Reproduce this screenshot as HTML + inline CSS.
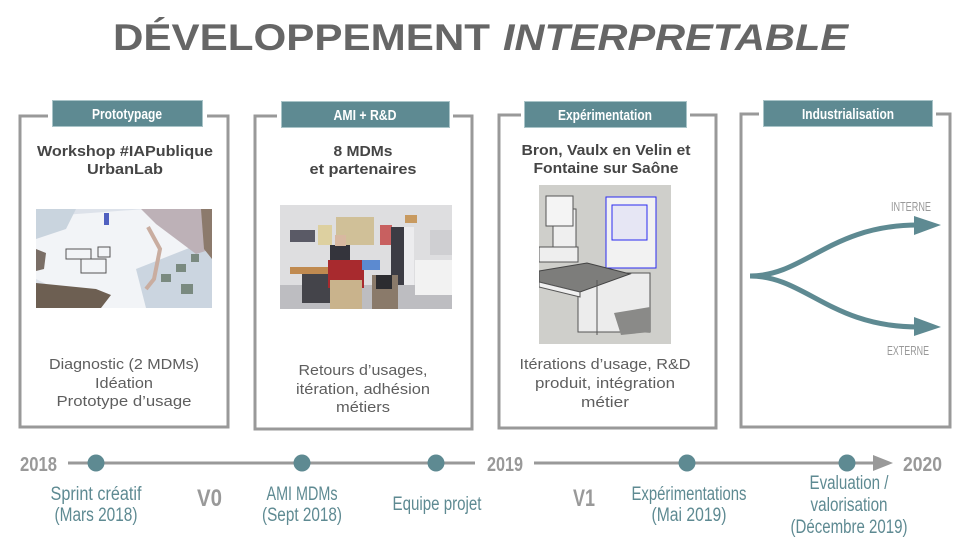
<!DOCTYPE html>
<html><head><meta charset="utf-8">
<style>
html,body{margin:0;padding:0;background:#fff;}
svg{display:block;}
.c{font-family:"Liberation Sans Narrow","Liberation Sans",sans-serif;}
.r{font-family:"Liberation Sans",sans-serif;}
</style></head>
<body>
<svg width="960" height="540" viewBox="0 0 960 540" xmlns="http://www.w3.org/2000/svg">
<rect width="960" height="540" fill="#fff"/>
<!-- Title -->
<text class="r" x="113" y="50" font-size="37" font-weight="bold" fill="#666" textLength="377" lengthAdjust="spacingAndGlyphs">DÉVELOPPEMENT</text>
<text class="r" x="503" y="50" font-size="37" font-weight="bold" font-style="italic" fill="#666" textLength="345" lengthAdjust="spacingAndGlyphs">INTERPRETABLE</text>

<!-- Box frames -->
<g fill="none" stroke="#999" stroke-width="3">
  <polyline points="48,116 20,116 20,427 228,427 228,116 207,116"/>
  <polyline points="277,116 255,116 255,429 472,429 472,116 453,116"/>
  <polyline points="521,115 499,115 499,428 716,428 716,115 690,115"/>
  <polyline points="759,114 741,114 741,427 950,427 950,114 936,114"/>
</g>
<!-- Label boxes -->
<g fill="#5e8a92" stroke="#a9c4c8" stroke-width="1">
  <rect x="52.5" y="100.5" width="150" height="26"/>
  <rect x="281.5" y="101.5" width="168" height="26"/>
  <rect x="524.5" y="101.5" width="162" height="26"/>
  <rect x="763.5" y="100.5" width="169" height="26"/>
</g>
<g class="c" fill="#fff" font-weight="bold" font-size="15" text-anchor="middle">
  <text x="127" y="119" textLength="70" lengthAdjust="spacingAndGlyphs">Prototypage</text>
  <text x="365" y="120" textLength="63" lengthAdjust="spacingAndGlyphs">AMI + R&amp;D</text>
  <text x="605" y="120" textLength="94" lengthAdjust="spacingAndGlyphs">Expérimentation</text>
  <text x="848" y="119" textLength="92" lengthAdjust="spacingAndGlyphs">Industrialisation</text>
</g>

<!-- Headings -->
<g class="r" fill="#454545" font-weight="bold" font-size="15" text-anchor="middle">
  <text x="125" y="156" textLength="176" lengthAdjust="spacingAndGlyphs">Workshop #IAPublique</text>
  <text x="125" y="174" textLength="76" lengthAdjust="spacingAndGlyphs">UrbanLab</text>
  <text x="363" y="156" textLength="59" lengthAdjust="spacingAndGlyphs">8 MDMs</text>
  <text x="363" y="174" textLength="107" lengthAdjust="spacingAndGlyphs">et partenaires</text>
  <text x="606" y="155" textLength="169" lengthAdjust="spacingAndGlyphs">Bron, Vaulx en Velin et</text>
  <text x="606" y="173" textLength="145" lengthAdjust="spacingAndGlyphs">Fontaine sur Saône</text>
</g>

<!-- Image 1 -->
<svg x="36" y="209" width="176" height="99" viewBox="0 0 176 99">
  <rect width="176" height="99" fill="#dde2ea"/>
  <polygon points="0,8 110,0 176,30 176,60 130,99 60,99 0,70" fill="#f2f4f7"/>
  <polygon points="0,0 40,0 30,20 0,30" fill="#c9d4de"/>
  <polygon points="100,60 176,30 176,99 110,99" fill="#cbd5e0"/>
  <polygon points="105,0 176,0 176,40 160,45 140,30 120,15" fill="#bdb1b7"/>
  <polygon points="165,0 176,0 176,50 168,40" fill="#8c7a6c"/>
  <polygon points="0,74 60,80 75,86 65,99 0,99" fill="#6d5f52"/>
  <polygon points="0,40 10,44 8,60 0,62" fill="#7a6e66"/>
  <polyline points="112,18 124,40 118,70 110,80" fill="none" stroke="#c9ada0" stroke-width="4"/>
  <g fill="none" stroke="#555" stroke-width="1">
    <rect x="30" y="40" width="25" height="10"/><rect x="45" y="50" width="25" height="14"/><rect x="62" y="38" width="12" height="10"/>
  </g>
  <g fill="#7a8a80"><rect x="125" y="65" width="10" height="8"/><rect x="140" y="55" width="10" height="8"/><rect x="145" y="75" width="12" height="10"/><rect x="155" y="45" width="8" height="8"/></g>
  <rect x="68" y="4" width="5" height="12" fill="#5060c0"/>
</svg>

<!-- Image 2 -->
<svg x="280" y="205" width="172" height="104" viewBox="0 0 172 104">
  <rect width="172" height="104" fill="#dedee0"/>
  <rect y="80" width="172" height="24" fill="#bdbdc1"/>
  <rect x="10" y="25" width="25" height="12" fill="#5a5a66"/>
  <rect x="38" y="20" width="14" height="20" fill="#ddd0a0"/>
  <rect x="56" y="12" width="38" height="28" fill="#d0c098"/>
  <rect x="100" y="20" width="12" height="20" fill="#c86060"/>
  <rect x="111" y="22" width="13" height="58" fill="#3c3c44"/>
  <rect x="124" y="22" width="10" height="58" fill="#ececee"/>
  <rect x="125" y="10" width="12" height="8" fill="#c89a60"/>
  <rect x="135" y="55" width="37" height="35" fill="#f2f2f2"/>
  <rect x="150" y="25" width="22" height="25" fill="#cfcfd2"/>
  <rect x="22" y="62" width="36" height="36" fill="#44444a"/>
  <rect x="10" y="62" width="70" height="7" fill="#c08a50"/>
  <rect x="50" y="40" width="20" height="22" fill="#34343c"/>
  <rect x="55" y="30" width="11" height="11" fill="#d8b8a0"/>
  <rect x="48" y="55" width="36" height="28" fill="#a82a2e"/>
  <rect x="82" y="55" width="18" height="10" fill="#5c8ad0"/>
  <rect x="50" y="75" width="32" height="29" fill="#c9b38c"/>
  <rect x="92" y="70" width="26" height="34" fill="#8a7a6a"/>
  <rect x="96" y="70" width="16" height="14" fill="#2c2c30"/>
</svg>

<!-- Image 3 -->
<svg x="539" y="185" width="132" height="159" viewBox="0 0 132 159">
  <rect width="132" height="159" fill="#cfcfcb"/>
  <rect x="14" y="24" width="23" height="45" fill="#efefef" stroke="#555" stroke-width="1"/>
  <rect x="7" y="11" width="27" height="30" fill="#f4f4f4" stroke="#555" stroke-width="1"/>
  <rect x="0" y="62" width="39" height="15" fill="#eeeeee" stroke="#555" stroke-width="1"/>
  <rect x="67" y="12" width="50" height="71" fill="#f2f2f2" stroke="#2b2bf0" stroke-width="1"/>
  <rect x="73" y="20" width="35" height="35" fill="#e6e6f4" stroke="#2b2bf0" stroke-width="1"/>
  <polygon points="39,147 39,88 111,88 111,147" fill="#ececec" stroke="#555" stroke-width="1"/>
  <polygon points="75,128 111,122 111,147 82,150" fill="#8a8a88"/>
  <polygon points="0,86 48,78 91,89 41,107 0,97" fill="#7d7d7b" stroke="#444" stroke-width="1"/>
  <polygon points="0,97 41,107 41,112 0,102" fill="#f0f0f0" stroke="#555" stroke-width="1"/>
  <line x1="58" y1="95" x2="58" y2="150" stroke="#555"/>
</svg>

<!-- Bottom texts -->
<g class="r" fill="#5e5e5e" font-size="15" text-anchor="middle">
  <text x="124" y="369" textLength="150" lengthAdjust="spacingAndGlyphs">Diagnostic (2 MDMs)</text>
  <text x="124" y="388" textLength="58" lengthAdjust="spacingAndGlyphs">Idéation</text>
  <text x="124" y="406" textLength="135" lengthAdjust="spacingAndGlyphs">Prototype d’usage</text>
  <text x="363" y="375" textLength="129" lengthAdjust="spacingAndGlyphs">Retours d’usages,</text>
  <text x="363" y="394" textLength="134" lengthAdjust="spacingAndGlyphs">itération, adhésion</text>
  <text x="363" y="412" textLength="54" lengthAdjust="spacingAndGlyphs">métiers</text>
  <text x="605" y="369" textLength="171" lengthAdjust="spacingAndGlyphs">Itérations d’usage, R&amp;D</text>
  <text x="605" y="388" textLength="140" lengthAdjust="spacingAndGlyphs">produit, intégration</text>
  <text x="605" y="407" textLength="48" lengthAdjust="spacingAndGlyphs">métier</text>
</g>

<!-- Industrialisation arrows -->
<g fill="none" stroke="#5e8a92" stroke-width="5">
  <path d="M750,276 C805,276 830,225 918,225"/>
  <path d="M750,276 C805,276 830,327 918,327"/>
</g>
<g fill="#5e8a92">
  <polygon points="914,216 941,225 914,235"/>
  <polygon points="914,317 941,327 914,336"/>
</g>
<g class="c" fill="#999" font-size="13">
  <text x="891" y="211" textLength="40" lengthAdjust="spacingAndGlyphs">INTERNE</text>
  <text x="887" y="355" textLength="42" lengthAdjust="spacingAndGlyphs">EXTERNE</text>
</g>

<!-- Timeline -->
<g stroke="#999" stroke-width="3">
  <line x1="68" y1="463" x2="475" y2="463"/>
  <line x1="534" y1="463" x2="876" y2="463"/>
</g>
<polygon points="873,455 893,463 873,471" fill="#999"/>
<g fill="#5e8a92">
  <circle cx="96" cy="463" r="8.5"/>
  <circle cx="302" cy="463" r="8.5"/>
  <circle cx="436" cy="463" r="8.5"/>
  <circle cx="687" cy="463" r="8.5"/>
  <circle cx="847" cy="463" r="8.5"/>
</g>
<g class="c" fill="#999" font-weight="bold">
  <text x="20" y="471" font-size="20" textLength="37" lengthAdjust="spacingAndGlyphs">2018</text>
  <text x="487" y="471" font-size="20" textLength="36" lengthAdjust="spacingAndGlyphs">2019</text>
  <text x="903" y="471" font-size="20" textLength="39" lengthAdjust="spacingAndGlyphs">2020</text>
  <text x="197" y="506" font-size="24" textLength="25" lengthAdjust="spacingAndGlyphs">V0</text>
  <text x="573" y="506" font-size="24" textLength="22" lengthAdjust="spacingAndGlyphs">V1</text>
</g>
<g class="c" fill="#5e8a92" font-size="19" text-anchor="middle">
  <text x="96" y="500" textLength="91" lengthAdjust="spacingAndGlyphs">Sprint créatif</text>
  <text x="96" y="521" textLength="83" lengthAdjust="spacingAndGlyphs">(Mars 2018)</text>
  <text x="302" y="500" textLength="71" lengthAdjust="spacingAndGlyphs">AMI MDMs</text>
  <text x="302" y="521" textLength="80" lengthAdjust="spacingAndGlyphs">(Sept 2018)</text>
  <text x="437" y="510" textLength="89" lengthAdjust="spacingAndGlyphs">Equipe projet</text>
  <text x="689" y="500" textLength="115" lengthAdjust="spacingAndGlyphs">Expérimentations</text>
  <text x="689" y="521" textLength="75" lengthAdjust="spacingAndGlyphs">(Mai 2019)</text>
  <text x="849" y="489" textLength="79" lengthAdjust="spacingAndGlyphs">Evaluation /</text>
  <text x="849" y="511" textLength="77" lengthAdjust="spacingAndGlyphs">valorisation</text>
  <text x="849" y="533" textLength="117" lengthAdjust="spacingAndGlyphs">(Décembre 2019)</text>
</g>
</svg>
</body></html>
